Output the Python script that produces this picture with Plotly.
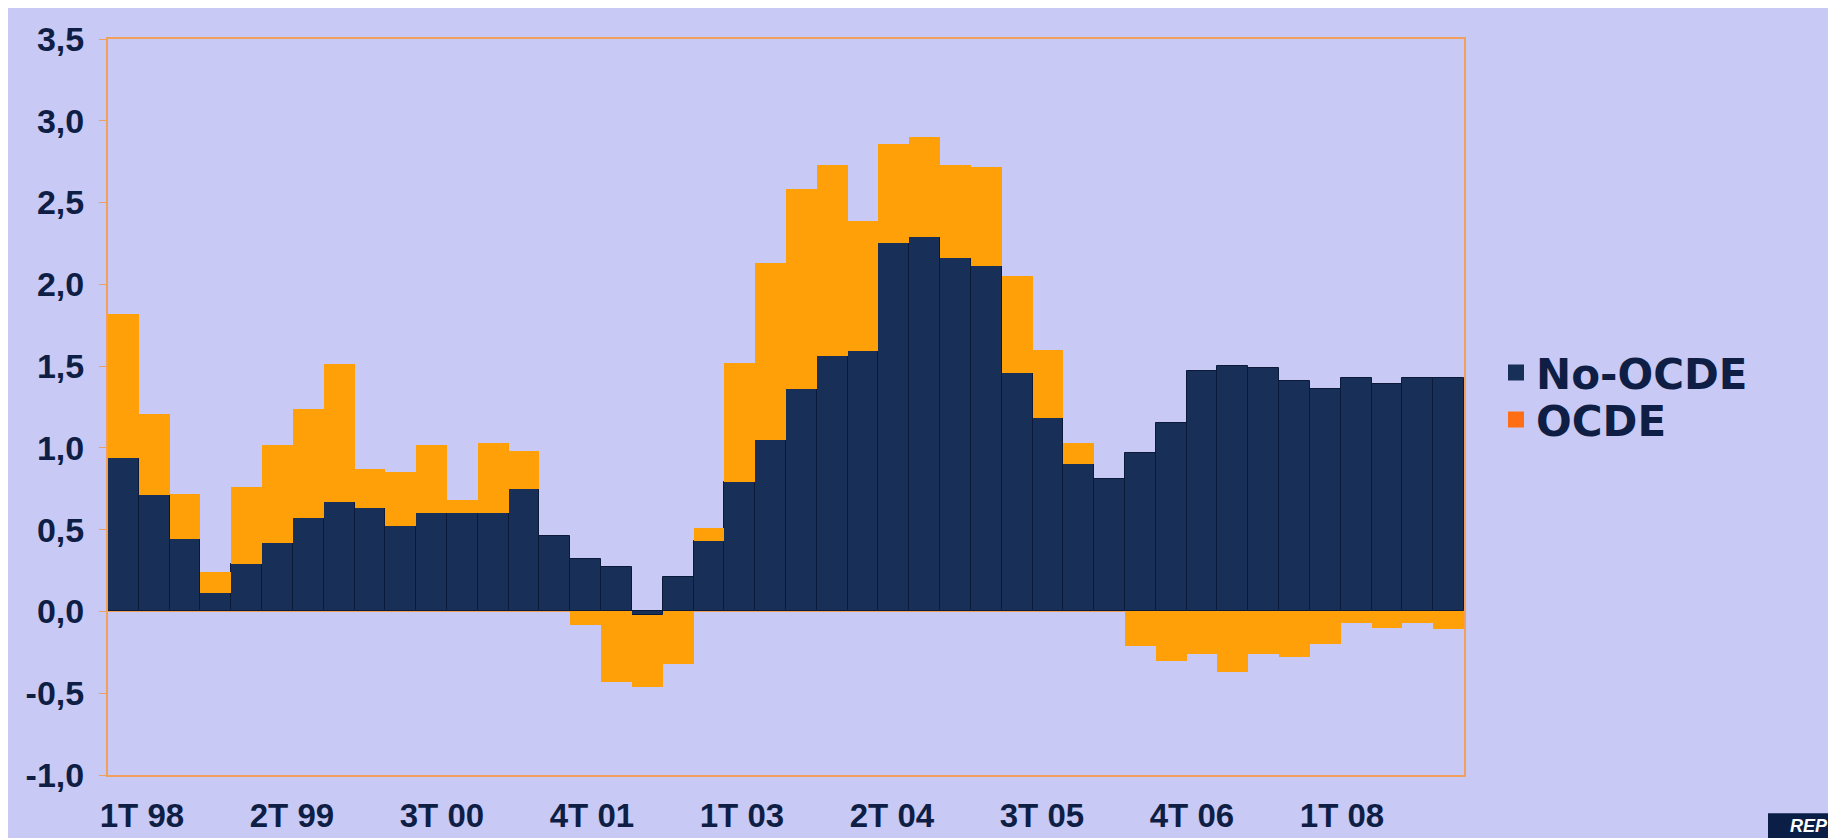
import plotly.graph_objects as go

quarters = [f"{q}T {str(y)[-2:]}" for y in range(1998, 2009) for q in range(1, 5)]

no_ocde = [0.94, 0.71, 0.44, 0.11, 0.29, 0.42, 0.57, 0.67, 0.63, 0.52, 0.60, 0.60, 0.60, 0.75, 0.46,
           0.32, 0.27, -0.02, 0.21, 0.43, 0.79, 1.05, 1.36, 1.56, 1.59, 2.25, 2.29, 2.16, 2.11, 1.46,
           1.18, 0.90, 0.81, 0.97, 1.15, 1.47, 1.50, 1.49, 1.41, 1.36, 1.43, 1.39, 1.43, 1.43]
ocde = [0.88, 0.50, 0.28, 0.13, 0.47, 0.60, 0.67, 0.84, 0.24, 0.33, 0.42, 0.08, 0.43, 0.23, 0.0,
        -0.08, -0.43, -0.44, -0.32, 0.08, 0.73, 1.08, 1.22, 1.17, 0.80, 0.61, 0.61, 0.57, 0.61, 0.59,
        0.42, 0.13, 0.0, -0.21, -0.30, -0.26, -0.37, -0.26, -0.28, -0.20, -0.07, -0.10, -0.07, -0.11]

label_every = 5
y_ticks = [-1.0, -0.5, 0.0, 0.5, 1.0, 1.5, 2.0, 2.5, 3.0, 3.5]
y_ticktext = [f"{v:.1f}".replace(".", ",") for v in y_ticks]

NAVY = "rgb(24,48,88)"
NAVY_EDGE = "rgb(10,26,56)"
ORANGE = "rgb(255,160,8)"
LEG_ORANGE = "rgb(255,110,20)"
BG = "rgb(201,201,245)"
FRAME = "rgb(240,160,90)"
TXT = "rgb(14,30,68)"
FONT = "Liberation Sans, Arial"
LEG_FONT = "DejaVu Sans, Verdana, Liberation Sans"

L, R, T, B = 100, 380, 23, 63
W, H = 1836, 838
PW, PH = W - L - R, H - T - B

x = list(range(len(quarters)))

fig = go.Figure()
fig.add_trace(go.Bar(x=x, y=no_ocde, name="No-OCDE",
                     marker=dict(color=NAVY, line=dict(width=1, color=NAVY_EDGE)),
                     showlegend=False))
fig.add_trace(go.Bar(x=x, y=ocde, name="OCDE",
                     marker=dict(color=ORANGE, line=dict(width=0)),
                     showlegend=False))
# legend entries (each in its own legend box to match the tight spacing)
fig.add_trace(go.Scatter(x=[None], y=[None], mode="markers", name="No-OCDE",
                         marker=dict(symbol="square", size=24, color=NAVY), legend="legend"))
fig.add_trace(go.Scatter(x=[None], y=[None], mode="markers", name="OCDE",
                         marker=dict(symbol="square", size=24, color=LEG_ORANGE), legend="legend2"))

leg_x = (1488 - L) / PW
leg_font = dict(family=LEG_FONT, size=42, color=TXT, weight="bold")
tick_idx = list(range(0, len(quarters), label_every))
fig.update_layout(
    width=W, height=H,
    barmode="relative", bargap=0.0,
    paper_bgcolor=BG, plot_bgcolor=BG,
    margin=dict(l=L, r=R, t=T, b=B),
    font=dict(family=FONT, color=TXT),
    showlegend=True,
    legend=dict(x=leg_x, y=(H - B - 364) / PH, xanchor="left", yanchor="middle",
                font=leg_font, bgcolor="rgba(0,0,0,0)", itemwidth=30),
    legend2=dict(x=leg_x, y=(H - B - 412) / PH, xanchor="left", yanchor="middle",
                 font=leg_font, bgcolor="rgba(0,0,0,0)", itemwidth=30),
    xaxis=dict(range=[-0.5, len(quarters) - 0.5],
               tickvals=[0.6 + i * 0.9735 for i in tick_idx],
               ticktext=[quarters[i] for i in tick_idx],
               tickangle=0,
               ticks="", showgrid=False, zeroline=False,
               showline=True, mirror=True, linecolor=FRAME, linewidth=2,
               tickfont=dict(size=33, color=TXT, family=FONT, weight="bold"),
               ticklabelstandoff=10),
    yaxis=dict(range=[-1.0, 3.5], tickvals=y_ticks, ticktext=y_ticktext,
               ticks="outside", ticklen=7, tickcolor=FRAME, tickwidth=1,
               showgrid=False, zeroline=True, zerolinecolor=FRAME, zerolinewidth=2,
               showline=True, mirror=True, linecolor=FRAME, linewidth=2,
               tickfont=dict(size=34, color=TXT, family=FONT, weight="bold"),
               ticklabelstandoff=8),
)

# logo box bottom right
fig.add_shape(type="rect", xref="paper", yref="paper",
              x0=(1760 - L) / PW, x1=(1840 - L) / PW,
              y0=-(H - (H - B) + 2) / PH, y1=-(814 - (H - B)) / PH,
              fillcolor="rgb(10,30,70)", line=dict(width=0), layer="above")
fig.add_annotation(xref="paper", yref="paper", x=(1780 - L) / PW, y=-(827 - (H - B)) / PH,
                   text="<b><i>REP</i></b>", showarrow=False, xanchor="left", yanchor="middle",
                   font=dict(family=FONT, size=18, color="white"))

fig.write_html("out.html")
